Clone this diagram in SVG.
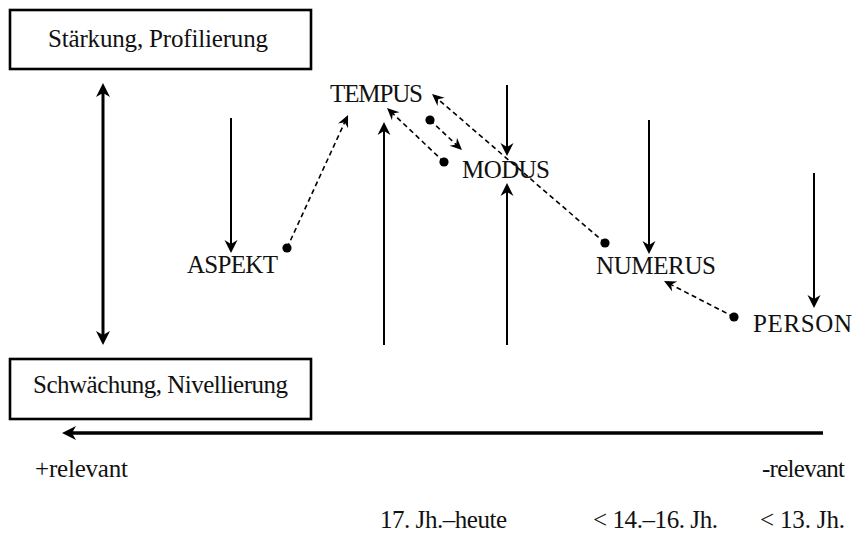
<svg xmlns="http://www.w3.org/2000/svg" width="853" height="545" viewBox="0 0 853 545">
<style>
  .box { fill: #ffffff; stroke: #000; stroke-width: 2.6; }
  .lbl { font-family: "Liberation Serif", "Times New Roman", serif; font-size: 25px; fill: #111; }
  .cap { font-family: "Liberation Serif", "Times New Roman", serif; font-size: 25px; fill: #111; text-anchor: middle; }
  .solid { stroke: #000; stroke-width: 2; fill: none; marker-end: url(#ah); }
  .dash { stroke: #000; stroke-width: 1.6; stroke-dasharray: 5 3.5; fill: none; marker-end: url(#ahs); }
  .dot { fill: #000; }
</style>
<defs>
  <marker id="ah" viewBox="-16 -7 16 14" refX="-4" refY="0" markerWidth="16" markerHeight="14" markerUnits="userSpaceOnUse" orient="auto-start-reverse">
    <path d="M0,0 L-13,-6.5 L-9,0 L-13,6.5 Z" fill="#000"/>
  </marker>
  <marker id="ahb" viewBox="-16 -7 16 14" refX="-4" refY="0" markerWidth="16" markerHeight="14" markerUnits="userSpaceOnUse" orient="auto-start-reverse">
    <path d="M0,0 L-14,-7 L-10,0 L-14,7 Z" fill="#000"/>
  </marker>
  <marker id="ahs" viewBox="-14 -6 14 12" refX="-3" refY="0" markerWidth="14" markerHeight="12" markerUnits="userSpaceOnUse" orient="auto">
    <path d="M0,0 L-12,-5.5 L-8,0 L-12,5.5 Z" fill="#000"/>
  </marker>
</defs>

<g id="box-staerkung">
  <rect class="box" x="10" y="10" width="301" height="59"/>
  <text class="lbl" x="158" y="47" text-anchor="middle" textLength="220">Stärkung, Profilierung</text>
</g>
<g id="box-schwaechung">
  <rect class="box" x="10" y="359" width="301" height="60"/>
  <text class="lbl" x="160.5" y="393" text-anchor="middle" textLength="255">Schwächung, Nivellierung</text>
</g>

<g id="node-tempus"><text class="cap" x="376.5" y="102" textLength="93">TEMPUS</text></g>
<g id="node-aspekt"><text class="cap" x="232.5" y="273" textLength="91">ASPEKT</text></g>
<g id="node-modus"><text class="cap" x="506" y="178" textLength="88">MODUS</text></g>
<g id="node-numerus"><text class="cap" x="656" y="274" textLength="120">NUMERUS</text></g>
<g id="node-person"><text class="cap" x="802.5" y="332" textLength="99">PERSON</text></g>

<g id="labels">
  <text class="lbl" x="35" y="477" textLength="93">+relevant</text>
  <text class="lbl" x="762" y="477" textLength="83">-relevant</text>
  <text class="lbl" x="380" y="528" textLength="127">17. Jh.–heute</text>
  <text class="lbl" x="593" y="528" textLength="125">&lt; 14.–16. Jh.</text>
  <text class="lbl" x="760" y="528" textLength="85">&lt; 13. Jh.</text>
</g>

<g id="connectors">
  <line x1="103" y1="87" x2="103" y2="341" stroke="#000" stroke-width="3" marker-start="url(#ahb)" marker-end="url(#ahb)"/>
  <line x1="823" y1="433" x2="66" y2="433" stroke="#000" stroke-width="3.5" marker-end="url(#ahb)"/>

  <line class="solid" x1="231" y1="118" x2="231" y2="249"/>
  <line class="solid" x1="384" y1="345" x2="384" y2="126"/>
  <line class="solid" x1="507" y1="85" x2="507" y2="152"/>
  <line class="solid" x1="507" y1="345" x2="507" y2="187"/>
  <line class="solid" x1="649" y1="120" x2="649" y2="250"/>
  <line class="solid" x1="814" y1="173" x2="814" y2="304"/>

  <circle class="dot" cx="287" cy="248" r="4.6"/>
  <line class="dash" x1="287" y1="248" x2="346.8" y2="117.7"/>

  <circle class="dot" cx="444" cy="162" r="4.6"/>
  <line class="dash" x1="444" y1="162" x2="389.2" y2="110.1"/>

  <circle class="dot" cx="430" cy="120" r="4.6"/>
  <line class="dash" x1="430" y1="120" x2="459.8" y2="148"/>

  <circle class="dot" cx="605" cy="243" r="4.6"/>
  <line class="dash" x1="605" y1="243" x2="434.3" y2="96"/>

  <circle class="dot" cx="734" cy="317" r="4.6"/>
  <line class="dash" x1="734" y1="317" x2="666.7" y2="282.4"/>
</g>
</svg>
